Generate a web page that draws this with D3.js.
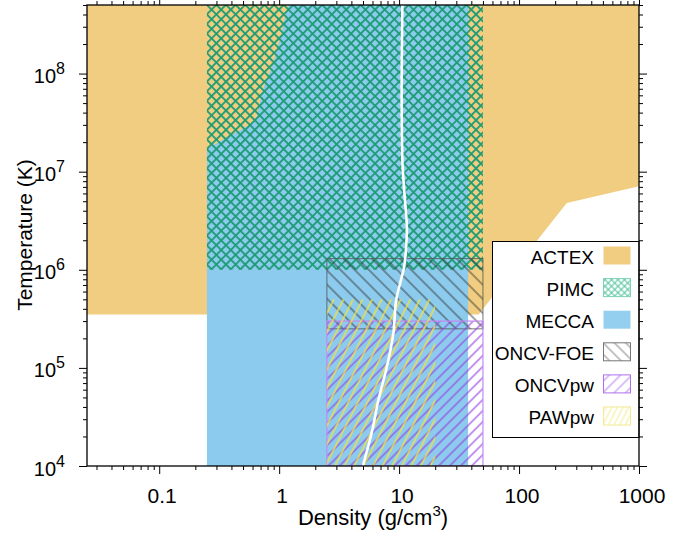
<!DOCTYPE html>
<html>
<head>
<meta charset="utf-8">
<script src="https://cdn.jsdelivr.net/npm/d3@7"></script>
<style>
  body { margin: 0; background: #fff; }
  text { font-family: "Liberation Sans", Arial, Helvetica, sans-serif; fill: #000; }
</style>
</head>
<body>
<svg id="chart" width="685" height="534"></svg>
<script>
"use strict";

// axis ticks
var densityTicks = [0.1, 1, 10, 100, 1000];
var densityTickLabels = ["0.1", "1", "10", "100", "1000"];
var tempTicks = [1e4, 1e5, 1e6, 1e7, 1e8];
var tempTickExps = ["4", "5", "6", "7", "8"];

// regions (density g/cm3, temperature K)
var actexRho = [0.025, 1000, 1000, 250, 46, 0.025];
var actexT   = [5e8, 5e8, 7.1e6, 4.8e6, 3.5e5, 3.5e5];

var meccaRho = [0.25, 0.25, 0.30, 0.42, 0.57, 0.65, 0.70, 0.76, 0.87, 0.96, 1.05, 1.12, 1.2, 37.6, 37.6];
var meccaT   = [1e4, 1.73e7, 1.95e7, 2.45e7, 3.0e7, 3.6e7, 5.4e7, 7.9e7, 1.17e8, 1.74e8, 2.6e8, 3.8e8, 5e8, 5e8, 1e4];

var pimcRho = [0.25, 50], pimcT = [1e6, 5e8];
var foeRho  = [2.5, 50],  foeT  = [2.5e5, 1.3e6];
var oncvRho = [2.5, 50],  oncvT = [1e4, 3e5];
var pawRho  = [2.5, 20],  pawT  = [1e4, 5e5];

// white curve
var isoRho = [4.98, 5.9, 6.72, 7.9, 8.96, 9.44, 10.2, 11.0, 11.4, 11.6, 11.2, 10.7, 10.5, 10.65];
var isoT   = [1e4, 2.17e4, 4.7e4, 1.02e5, 2.27e5, 4.9e5, 7.3e5, 1.07e6, 1.59e6, 2.73e6, 5.1e6, 1.12e7, 5.38e7, 5e8];

var legendNames = ["ACTEX", "PIMC", "MECCA", "ONCV-FOE", "ONCVpw", "PAWpw"];

var pLeft = 87, pRight = 639, pTop = 5, pBottom = 466;

var svg = d3.select("#chart");

var x = d3.scaleLog().domain([0.025, 1000]).range([pLeft, pRight]);
var y = d3.scaleLog().domain([1e4, 5e8]).range([pBottom, pTop]);

/**
 * hatch pattern made of parallel lines, rotated
 */
var defs = svg.append("defs");
var hatch = function (id, spacing, angle, color, width, cross) {
	var p = defs.append("pattern")
		.attr("id", id)
		.attr("patternUnits", "userSpaceOnUse")
		.attr("width", spacing)
		.attr("height", spacing)
		.attr("patternTransform", "rotate(" + angle + ")");
	p.append("line")
		.attr("x1", 0).attr("y1", -1).attr("x2", 0).attr("y2", spacing + 1)
		.attr("stroke", color).attr("stroke-width", width);
	p.append("line")
		.attr("x1", spacing).attr("y1", -1).attr("x2", spacing).attr("y2", spacing + 1)
		.attr("stroke", color).attr("stroke-width", width);
	if (cross) {
		p.append("line")
			.attr("x1", -1).attr("y1", 0).attr("x2", spacing + 1).attr("y2", 0)
			.attr("stroke", color).attr("stroke-width", width);
		p.append("line")
			.attr("x1", -1).attr("y1", spacing).attr("x2", spacing + 1).attr("y2", spacing)
			.attr("stroke", color).attr("stroke-width", width);
	}
};
hatch("pimc", 6.8, 45, "#1c9b74", 1.8, true);
hatch("foe", 10, -45, "#333", 0.9, false);
hatch("oncv", 7.8, 45, "#9440e0", 1.1, false);
hatch("paw", 8.5, 27, "#f2e040", 1.4, false);
hatch("pimcL", 4.6, 45, "#4cc39a", 1.0, true);
hatch("foeL", 8, -45, "#666", 0.8, false);
hatch("oncvL", 8, 45, "#b070ee", 0.9, false);
hatch("pawL", 5, 27, "#f4ea80", 0.9, false);

defs.append("clipPath").attr("id", "plotclip")
	.append("rect")
	.attr("x", pLeft).attr("y", pTop)
	.attr("width", pRight - pLeft).attr("height", pBottom - pTop);

var plot = svg.append("g").attr("clip-path", "url(#plotclip)");

var poly = function (rho, t) {
	return d3.line()(rho.map(function (r, i) { return [x(r), y(t[i])]; })) + "Z";
};
var box = function (rho, t) {
	return {
		x: x(rho[0]), y: y(t[1]),
		w: x(rho[1]) - x(rho[0]), h: y(t[0]) - y(t[1])
	};
};

plot.append("path").attr("d", poly(actexRho, actexT)).attr("fill", "#f0cd80");
plot.append("path").attr("d", poly(meccaRho, meccaT)).attr("fill", "#8ccbed");

var b = box(pimcRho, pimcT);
plot.append("rect").attr("x", b.x).attr("y", b.y).attr("width", b.w).attr("height", b.h)
	.attr("fill", "url(#pimc)");

b = box(foeRho, foeT);
plot.append("rect").attr("x", b.x).attr("y", b.y).attr("width", b.w).attr("height", b.h)
	.attr("fill", "url(#foe)").attr("stroke", "#555").attr("stroke-width", 1).attr("stroke-opacity", 0.8);

b = box(oncvRho, oncvT);
plot.append("rect").attr("x", b.x).attr("y", b.y).attr("width", b.w).attr("height", b.h)
	.attr("fill", "url(#oncv)").attr("stroke", "#c488f4").attr("stroke-width", 1.2);

b = box(pawRho, pawT);
plot.append("rect").attr("x", b.x).attr("y", b.y).attr("width", b.w).attr("height", b.h)
	.attr("fill", "url(#paw)");

plot.append("path")
	.attr("d", d3.line().curve(d3.curveCatmullRom)(isoRho.map(function (r, i) { return [x(r), y(isoT[i])]; })))
	.attr("fill", "none").attr("stroke", "#fff").attr("stroke-width", 2.6);

// legend
var lg = svg.append("g");
lg.append("rect").attr("x", 492.5).attr("y", 241.5).attr("width", pRight - 492.5).attr("height", 196)
	.attr("fill", "#fff").attr("stroke", "#000").attr("stroke-width", 1);
var swFill = ["#f0cd80", "url(#pimcL)", "#94cff0", "url(#foeL)", "url(#oncvL)", "url(#pawL)"];
var swStroke = ["none", "#7fd2b3", "none", "#777", "#b070ee", "#f4ea90"];
legendNames.forEach(function (name, i) {
	var yy = 246 + i * 32.1;
	lg.append("rect").attr("x", 603.5).attr("y", yy + 0.5).attr("width", 27).attr("height", 18)
		.attr("fill", swFill[i]).attr("stroke", swStroke[i]).attr("stroke-width", 1);
	lg.append("text").attr("x", 594).attr("y", yy + 17.5)
		.attr("text-anchor", "end").style("font-size", "19px").text(name);
});

// axes
var minorX = [], minorY = [];
[0.01, 0.1, 1, 10, 100].forEach(function (d) {
	for (var k = 2; k < 10; k++) { if (d * k >= 0.025) { minorX.push(d * k); } }
});
[1e4, 1e5, 1e6, 1e7, 1e8].forEach(function (d) {
	for (var k = 2; k < 10; k++) { if (d * k <= 5e8) { minorY.push(d * k); } }
});

var axisStyle = function (g) {
	g.select(".domain").remove();
	g.selectAll("line").attr("stroke", "#000").attr("stroke-width", 1);
};
svg.append("g").attr("transform", "translate(0," + pBottom + ")")
	.call(d3.axisBottom(x).tickValues(densityTicks).tickSize(8).tickFormat("")).call(axisStyle);
svg.append("g").attr("transform", "translate(0," + pBottom + ")")
	.call(d3.axisBottom(x).tickValues(minorX).tickSize(4).tickFormat("")).call(axisStyle);
svg.append("g").attr("transform", "translate(0," + pTop + ")")
	.call(d3.axisTop(x).tickValues(densityTicks).tickSize(8).tickFormat("")).call(axisStyle);
svg.append("g").attr("transform", "translate(0," + pTop + ")")
	.call(d3.axisTop(x).tickValues(minorX).tickSize(4).tickFormat("")).call(axisStyle);
svg.append("g").attr("transform", "translate(" + pLeft + ",0)")
	.call(d3.axisLeft(y).tickValues(tempTicks).tickSize(8).tickFormat("")).call(axisStyle);
svg.append("g").attr("transform", "translate(" + pLeft + ",0)")
	.call(d3.axisLeft(y).tickValues(minorY).tickSize(4).tickFormat("")).call(axisStyle);
svg.append("g").attr("transform", "translate(" + pRight + ",0)")
	.call(d3.axisRight(y).tickValues(tempTicks).tickSize(8).tickFormat("")).call(axisStyle);
svg.append("g").attr("transform", "translate(" + pRight + ",0)")
	.call(d3.axisRight(y).tickValues(minorY).tickSize(4).tickFormat("")).call(axisStyle);

svg.append("rect").attr("x", pLeft).attr("y", pTop).attr("width", pRight - pLeft).attr("height", pBottom - pTop)
	.attr("fill", "none").attr("stroke", "#000").attr("stroke-width", 1.3);

// tick labels
svg.selectAll(".xlab").data(densityTicks).enter().append("text")
	.attr("x", function (d) { return x(d) + 3; })
	.attr("y", 503)
	.attr("text-anchor", "middle")
	.style("font-size", "21px")
	.text(function (d, i) { return densityTickLabels[i]; });

var yl = svg.selectAll(".ylab").data(tempTicks).enter().append("text")
	.attr("x", 65)
	.attr("y", function (d) { return y(d) + 9.5; })
	.attr("text-anchor", "end")
	.style("font-size", "20px");
yl.append("tspan").text("10");
yl.append("tspan").attr("dy", -9).style("font-size", "16px").text(function (d, i) { return tempTickExps[i]; });

// axis titles
var xt = svg.append("text").attr("x", 373).attr("y", 525).attr("text-anchor", "middle").style("font-size", "22px");
xt.append("tspan").text("Density (g/cm");
xt.append("tspan").attr("dy", -9).style("font-size", "15px").text("3");
xt.append("tspan").attr("dy", 9).text(")");

svg.append("text")
	.attr("transform", "translate(32,235) rotate(-90)")
	.attr("text-anchor", "middle")
	.style("font-size", "21px")
	.text("Temperature (K)");
</script>
</body>
</html>
